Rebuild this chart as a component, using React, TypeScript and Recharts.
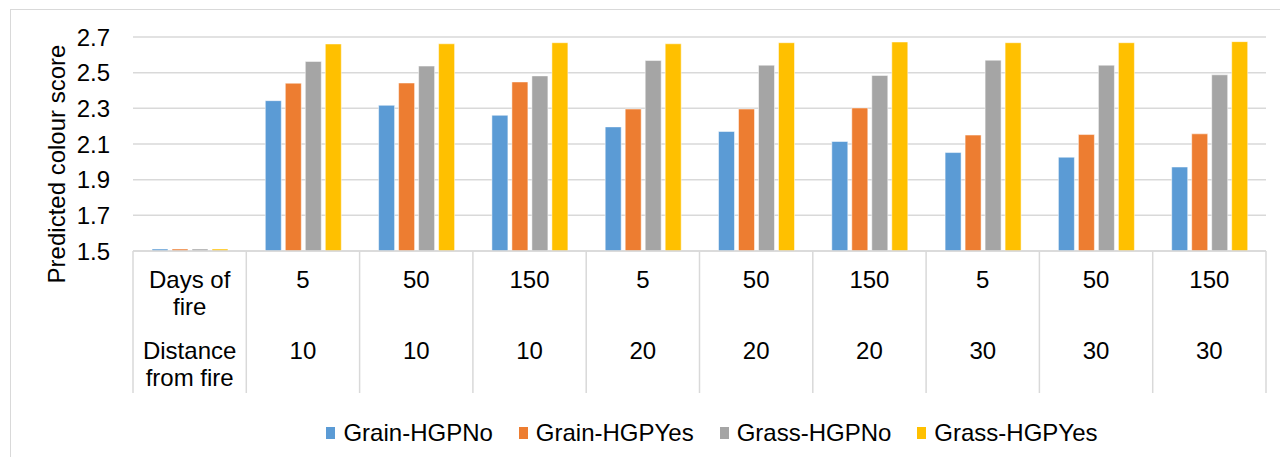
import { Bar, BarChart, CartesianGrid, Legend, XAxis, YAxis } from "recharts";

const daysOfFire = ["Days of\nfire", "5", "50", "150", "5", "50", "150", "5", "50", "150"];
const distanceFromFire = ["Distance\nfrom fire", "10", "10", "10", "20", "20", "20", "30", "30", "30"];

const grainHgpNo = [1.5, 2.343, 2.317, 2.261, 2.196, 2.17, 2.114, 2.052, 2.026, 1.971];
const grainHgpYes = [1.5, 2.441, 2.442, 2.448, 2.296, 2.296, 2.302, 2.15, 2.153, 2.157];
const grassHgpNo = [1.5, 2.563, 2.537, 2.482, 2.568, 2.542, 2.484, 2.57, 2.542, 2.488];
const grassHgpYes = [1.5, 2.661, 2.662, 2.668, 2.662, 2.668, 2.672, 2.668, 2.668, 2.674];

const yTicks = [1.5, 1.7, 1.9, 2.1, 2.3, 2.5, 2.7];

const SERIES = [
  { key: "grainNo", name: "Grain-HGPNo", color: "#5B9BD5", values: grainHgpNo },
  { key: "grainYes", name: "Grain-HGPYes", color: "#ED7D31", values: grainHgpYes },
  { key: "grassNo", name: "Grass-HGPNo", color: "#A5A5A5", values: grassHgpNo },
  { key: "grassYes", name: "Grass-HGPYes", color: "#FFC000", values: grassHgpYes },
];

const data = daysOfFire.map((d, i) => {
  const row: Record<string, string | number> = { days: d, dist: distanceFromFire[i] };
  SERIES.forEach((s) => {
    row[s.key] = s.values[i];
  });
  return row;
});

const WIDTH = 1280;
const HEIGHT = 457;
const MARGIN = { top: 37, right: 14, left: 0, bottom: 0 };
const Y_AXIS_W = 133;
const X_AXIS_H = 142;
const FONT = "'Liberation Sans', Arial, sans-serif";
const FS = 24;
const GRID = "#D9D9D9";
const band = (WIDTH - MARGIN.left - MARGIN.right - Y_AXIS_W) / data.length;

function TableTick(props: any) {
  const { x, y, index } = props;
  const days = daysOfFire[index].split("\n");
  const dist = distanceFromFire[index].split("\n");
  const last = index === data.length - 1;
  return (
    <g>
      <line x1={x - band / 2} x2={x - band / 2} y1={y} y2={y + X_AXIS_H} stroke={GRID} strokeWidth={1.5} />
      {last && <line x1={x + band / 2} x2={x + band / 2} y1={y} y2={y + X_AXIS_H} stroke={GRID} strokeWidth={1.5} />}
      <text x={x} y={y} textAnchor="middle" fontSize={FS} fill="#000" fontFamily={FONT}>
        {days.map((t, i) => (
          <tspan key={i} x={x} dy={i === 0 ? 37 : 27}>
            {t}
          </tspan>
        ))}
      </text>
      <text x={x} y={y + 71} textAnchor="middle" fontSize={FS} fill="#000" fontFamily={FONT}>
        {dist.map((t, i) => (
          <tspan key={i} x={x} dy={i === 0 ? 37 : 27}>
            {t}
          </tspan>
        ))}
      </text>
    </g>
  );
}

function LegendContent() {
  return (
    <div
      style={{
        display: "flex",
        justifyContent: "center",
        gap: 26,
        paddingTop: 26,
        paddingLeft: 158,
        fontFamily: FONT,
        fontSize: FS,
        color: "#000",
      }}
    >
      {SERIES.map((s) => (
        <div key={s.key} style={{ display: "flex", alignItems: "center" }}>
          <span style={{ display: "inline-block", width: 9, height: 12, background: s.color, marginRight: 8 }} />
          <span>{s.name}</span>
        </div>
      ))}
    </div>
  );
}

export default function App() {
  return (
    <div style={{ position: "absolute", left: 0, top: 0, width: WIDTH, height: HEIGHT, background: "#fff", overflow: "hidden" }}>
      <div
        style={{
          position: "absolute",
          left: 10,
          top: 9,
          width: 1400,
          height: 600,
          border: `1.5px solid ${GRID}`,
        }}
      />
      <BarChart
        width={WIDTH}
        height={HEIGHT}
        data={data}
        margin={MARGIN}
        barSize={16}
        barGap={4}
        style={{ position: "absolute", left: 0, top: 0 }}
      >
        <CartesianGrid vertical={false} stroke={GRID} strokeWidth={1.5} />
        <XAxis
          dataKey="days"
          height={X_AXIS_H}
          interval={0}
          tickLine={false}
          tickSize={0}
          tickMargin={0}
          axisLine={{ stroke: GRID, strokeWidth: 1.5 }}
          tick={<TableTick />}
        />
        <YAxis
          width={Y_AXIS_W}
          domain={[1.5, 2.7]}
          ticks={yTicks}
          allowDataOverflow
          axisLine={false}
          tickLine={false}
          tickMargin={17}
          tick={{ fontSize: FS, fill: "#000", fontFamily: FONT }}
          tickFormatter={(v: number) => v.toFixed(1)}
          label={{
            value: "Predicted colour score",
            angle: -90,
            position: "insideLeft",
            offset: 56,
            dy: 20,
            style: { fontSize: FS, fill: "#000", fontFamily: FONT, textAnchor: "middle" },
          }}
        />
        <Legend verticalAlign="bottom" height={64} content={<LegendContent />} />
        {SERIES.map((s) => (
          <Bar
            key={s.key}
            dataKey={s.key}
            name={s.name}
            fill={s.color}
            stroke="#fff"
            strokeOpacity={0.5}
            strokeWidth={1}
            minPointSize={2}
            isAnimationActive={false}
          />
        ))}
      </BarChart>
    </div>
  );
}
